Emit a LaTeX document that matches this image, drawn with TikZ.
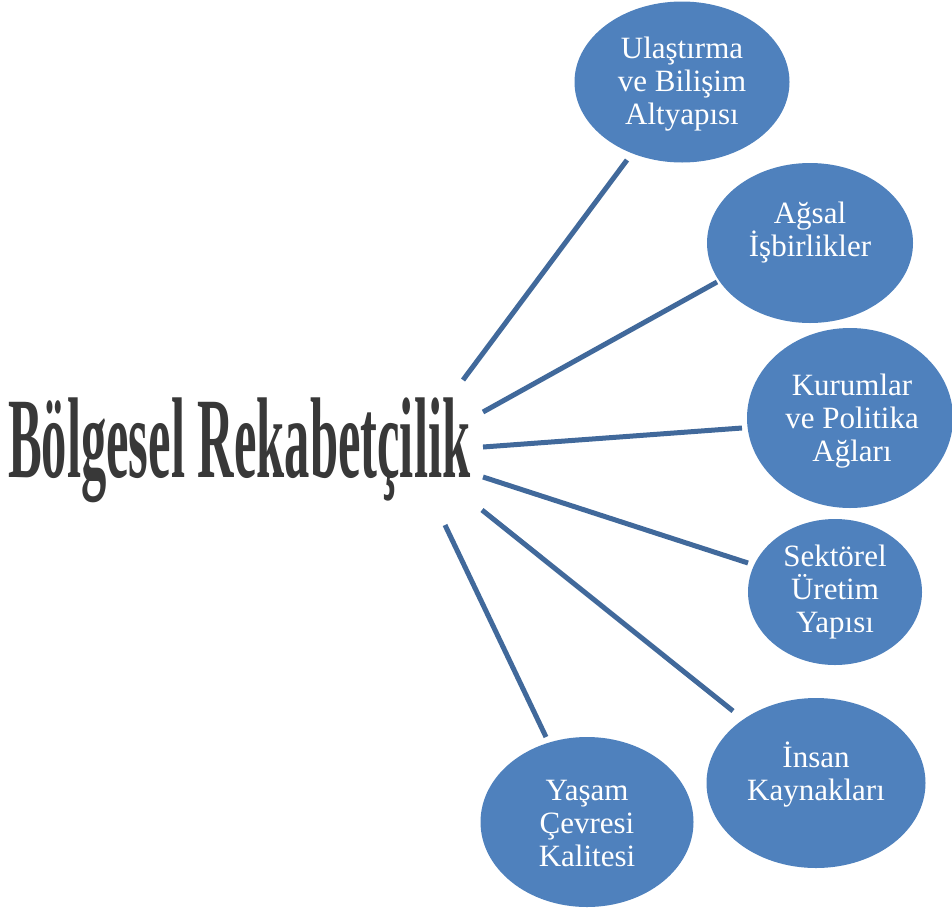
\documentclass[tikz,border=0pt]{standalone}
\usepackage{fontspec}
\setmainfont{Liberation Serif}
\usetikzlibrary{shapes.geometric}
\definecolor{bubble}{HTML}{4F81BD}
\definecolor{spoke}{HTML}{41699B}
\definecolor{titlegray}{HTML}{383838}
\tikzset{
  bubble/.style={ellipse, fill=bubble, draw=none, inner sep=0pt},
  bubbletext/.style={inner sep=0pt, text=white, align=center,
    font=\fontsize{31pt}{33pt}\selectfont},
  spoke/.style={draw=spoke, line width=5pt}
}
\begin{document}
\begin{tikzpicture}[x=1pt,y=-1pt]
\useasboundingbox (0,0) rectangle (952,908);
\node[anchor=north west, inner sep=0pt, text=titlegray] (title) at (8,398)
  {\resizebox*{462pt}{105pt}{\bfseries Bölgesel Rekabetçilik}};
\node[bubble, minimum width=215pt, minimum height=161pt] (b1) at (682,82) {};
\node[bubbletext] (t1) at (682,84) {Ulaştırma\\ve Bilişim\\Altyapısı};
\node[bubble, minimum width=206pt, minimum height=160pt] (b2) at (810,243) {};
\node[bubbletext] (t2) at (810,233) {Ağsal\\İşbirlikler};
\node[bubble, minimum width=206pt, minimum height=180pt] (b3) at (850,418) {};
\node[bubbletext] (t3) at (852,421) {Kurumlar\\ve Politika\\Ağları};
\node[bubble, minimum width=174pt, minimum height=146pt] (b4) at (835,592) {};
\node[bubbletext] (t4) at (835,592) {Sektörel\\Üretim\\Yapısı};
\node[bubble, minimum width=219pt, minimum height=170pt] (b5) at (816,783) {};
\node[bubbletext] (t5) at (816,775) {İnsan\\Kaynakları};
\node[bubble, minimum width=213pt, minimum height=170pt] (b6) at (587,822) {};
\node[bubbletext] (t6) at (587,823) {Yaşam\\Çevresi\\Kalitesi};
\coordinate (s1) at (463,380); \coordinate (e1) at (627,160);
\coordinate (s2) at (483,412); \coordinate (e2) at (717,282);
\coordinate (s3) at (483,447); \coordinate (e3) at (742,428);
\coordinate (s4) at (483,477); \coordinate (e4) at (748,563);
\coordinate (s5) at (482,510); \coordinate (e5) at (733,711);
\coordinate (s6) at (445,525); \coordinate (e6) at (546,737);
\foreach \i in {1,...,6} { \draw[spoke] (s\i) -- (e\i); }
\end{tikzpicture}
\end{document}
